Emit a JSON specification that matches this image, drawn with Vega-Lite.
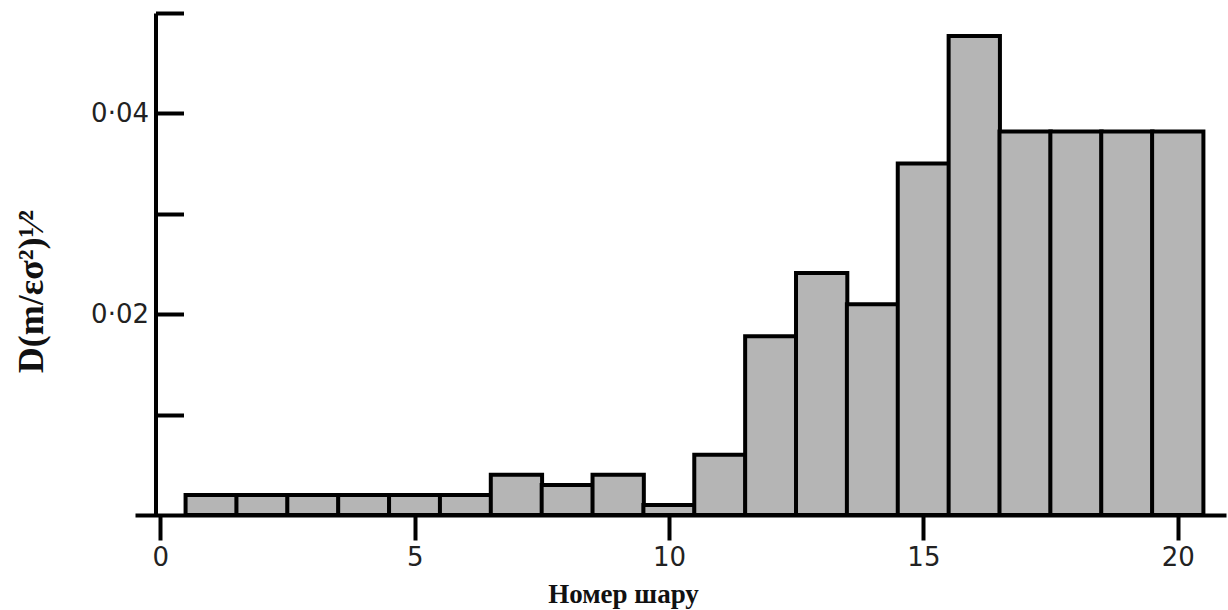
{
  "$schema": "https://vega.github.io/schema/vega-lite/v6.json",
  "autosize": "none",
  "padding": {"left": 135, "top": 13, "right": 2, "bottom": 95},
  "width": 1091,
  "height": 502,
  "background": "white",
  "config": {"view": {"stroke": null}},
  "data": {
    "values": [
      {"n": 1, "D": 0.002},
      {"n": 2, "D": 0.002},
      {"n": 3, "D": 0.002},
      {"n": 4, "D": 0.002},
      {"n": 5, "D": 0.002},
      {"n": 6, "D": 0.002},
      {"n": 7, "D": 0.004},
      {"n": 8, "D": 0.003},
      {"n": 9, "D": 0.004},
      {"n": 10, "D": 0.001},
      {"n": 11, "D": 0.006},
      {"n": 12, "D": 0.0178},
      {"n": 13, "D": 0.0241},
      {"n": 14, "D": 0.021},
      {"n": 15, "D": 0.035},
      {"n": 16, "D": 0.0477},
      {"n": 17, "D": 0.0382},
      {"n": 18, "D": 0.0382},
      {"n": 19, "D": 0.0382},
      {"n": 20, "D": 0.0382}
    ]
  },
  "mark": {"type": "bar", "width": 51.3, "fill": "#b5b5b5", "stroke": "black", "strokeWidth": 4, "strokeJoin": "miter"},
  "encoding": {
    "x": {
      "field": "n", "type": "quantitative",
      "scale": {"domain": [-0.4, 20.85], "nice": false, "zero": false},
      "axis": {
        "values": [0, 5, 10, 15, 20],
        "title": "Номер шару",
        "titleFont": "Liberation Serif", "titleFontWeight": "bold", "titleFontSize": 27, "titleColor": "#111",
        "titleX": 488, "titleY": 87, "titleBaseline": "alphabetic", "titleAlign": "center",
        "labelFont": "DejaVu Sans", "labelFontSize": 26, "labelColor": "#222", "labelPadding": 4,
        "domainColor": "black", "domainWidth": 4,
        "tickColor": "black", "tickWidth": 4, "tickSize": 25,
        "grid": false
      }
    },
    "y": {
      "field": "D", "type": "quantitative",
      "scale": {"domain": [0, 0.05], "nice": false},
      "axis": {
        "offset": -20.5,
        "values": [0.01, 0.02, 0.03, 0.04, 0.05],
        "labelExpr": "abs(datum.value - 0.02) < 0.001 ? '0·02' : (abs(datum.value - 0.04) < 0.001 ? '0·04' : '')",
        "title": "D(m/εσ²)¹⁄²",
        "titleFont": "Liberation Serif", "titleFontWeight": "bold", "titleFontSize": 36, "titleColor": "#111",
        "titleX": -124, "titleY": 278, "titleBaseline": "middle", "titleAlign": "center", "titleAngle": -90,
        "labelFont": "DejaVu Sans", "labelFontSize": 26, "labelColor": "#222", "labelPadding": 35,
        "domainColor": "black", "domainWidth": 4,
        "tickColor": "black", "tickWidth": 4, "tickSize": -28,
        "grid": false
      }
    }
  }
}
